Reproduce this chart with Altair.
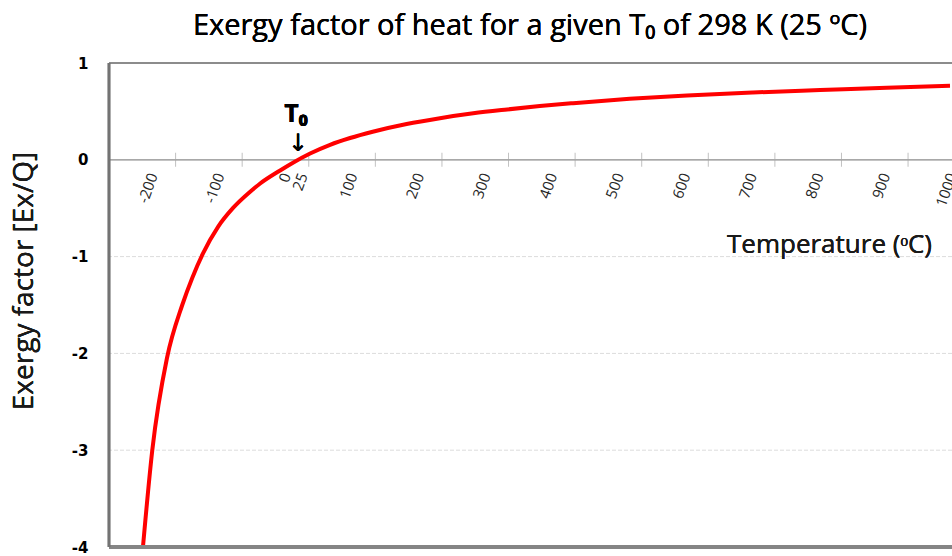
import altair as alt
import pandas as pd

# Curve
temps = [-199, -185, -163, -140, -125, -109, -86, -64, -38, -23, 7, 25, 52, 82, 112, 146, 197,
         247, 297, 348, 397, 447, 532, 618, 717, 818, 918, 1013]
values = [-4.0, -3.0, -2.05, -1.5, -1.22, -0.97, -0.69, -0.50, -0.33, -0.245, -0.11, -0.035, 0.065,
          0.155, 0.225, 0.29, 0.37, 0.43, 0.48, 0.52, 0.555, 0.585, 0.63, 0.665, 0.695, 0.72, 0.745, 0.765]

# x tick marks on the zero line and the temperature labels
tick_positions = [-150, -50, 50, 150, 250, 350, 450, 550, 650, 750, 850, 950]
label_values = [-200, -100, 0, 25, 100, 200, 300, 400, 500, 600, 700, 800, 900, 1000]
label_texts = [str(v) for v in label_values]

y_ticks = [-4, -3, -2, -1, 0, 1]
grid_values = [-1, -2, -3]

X_DOMAIN = [-250, 1016]
Y_DOMAIN = [-4, 1]

curve = pd.DataFrame({"T": temps, "v": values})
ticks = pd.DataFrame({"T": tick_positions})
labels = pd.DataFrame({"T": label_values, "txt": label_texts})
grid = pd.DataFrame({"g": grid_values})

xs = alt.Scale(domain=X_DOMAIN, nice=False, zero=False)
ys = alt.Scale(domain=Y_DOMAIN, nice=False, zero=False)

base_y_axis = alt.Axis(values=y_ticks, grid=False, domain=False, ticks=False,
                       labelPadding=21, labelFont="DejaVu Sans", labelFontWeight="bold",
                       labelFontSize=15, labelColor="#000000", title=None,
                       labelExpr="datum.value < 0 ? '-' + abs(datum.value) : '' + datum.value")

grid_layer = alt.Chart(grid).mark_rule(color="#dcdcdc", strokeDash=[4, 2], strokeWidth=1).encode(
    y=alt.Y("g:Q", scale=ys, axis=base_y_axis)
)

zero_line = alt.Chart(grid).mark_rule(color="#a6a6a6", strokeWidth=1).encode(
    y=alt.datum(0, scale=ys)
)

tick_layer = alt.Chart(ticks).mark_tick(orient="vertical", size=14, thickness=1, color="#a6a6a6").encode(
    x=alt.X("T:Q", scale=xs, axis=None),
    y=alt.datum(0, scale=ys)
)

label_layer = alt.Chart(labels).mark_text(
    angle=290, align="right", baseline="middle", xOffset=11, yOffset=14,
    font="Open Sans", fontSize=15, color="#262626"
).encode(
    x=alt.X("T:Q", scale=xs, axis=None),
    y=alt.datum(0, scale=ys),
    text="txt:N"
)

line_layer = alt.Chart(curve).mark_line(color="#ff0000", strokeWidth=4, interpolate="monotone", clip=True).encode(
    x=alt.X("T:Q", scale=xs, axis=None),
    y=alt.Y("v:Q", scale=ys)
)

# borders
top_border = alt.Chart(grid).mark_rule(color="#8c8c8c", strokeWidth=2).encode(y=alt.datum(1, scale=ys))
bottom_border = alt.Chart(grid).mark_rule(color="#858585", strokeWidth=4).encode(y=alt.datum(-4, scale=ys))
left_border = alt.Chart(grid).mark_rule(color="#737373", strokeWidth=2.5).encode(x=alt.datum(X_DOMAIN[0], scale=xs))

t0_label = alt.Chart(grid).mark_text(font="Open Sans", fontWeight="bold", fontSize=25, xOffset=4,
                                     align="center", baseline="alphabetic", color="#000000").encode(
    x=alt.datum(25, scale=xs), y=alt.value(59), text=alt.value("T₀")
)
t0_arrow = alt.Chart(grid).mark_text(font="DejaVu Sans", fontSize=24, align="center", xOffset=6,
                                     baseline="middle", color="#000000").encode(
    x=alt.datum(25, scale=xs), y=alt.value(81), text=alt.value("↓")
)

title_layer = alt.Chart(grid).mark_text(font="Open Sans", fontSize=29, align="center",
                                        baseline="alphabetic", color="#000000").encode(
    x=alt.value(421), y=alt.value(-28),
    text=alt.value("Exergy factor of heat for a given T₀ of 298 K (25 ºC)")
)

x_title = alt.Chart(grid).mark_text(font="Open Sans", fontSize=26, align="left",
                                    baseline="alphabetic", color="#1a1a1a").encode(
    x=alt.value(618), y=alt.value(190), text=alt.value("Temperature (ᵒC)")
)

y_title = alt.Chart(grid).mark_text(font="Open Sans", fontSize=28, align="center", angle=270,
                                    baseline="middle", color="#1a1a1a").encode(
    x=alt.value(-84), y=alt.value(218), text=alt.value("Exergy factor [Ex/Q]")
)

chart = alt.layer(
    grid_layer, zero_line, tick_layer, label_layer, line_layer,
    top_border, bottom_border, left_border,
    t0_label, t0_arrow, title_layer, x_title, y_title
).properties(
    width=843, height=484,
    padding={"left": 109, "top": 63, "right": 0, "bottom": 9},
    autosize=alt.AutoSizeParams(type="none"),
    background="#ffffff"
).configure_view(stroke=None)

chart.save("out.html", embed_options={"renderer": "svg", "actions": False})
